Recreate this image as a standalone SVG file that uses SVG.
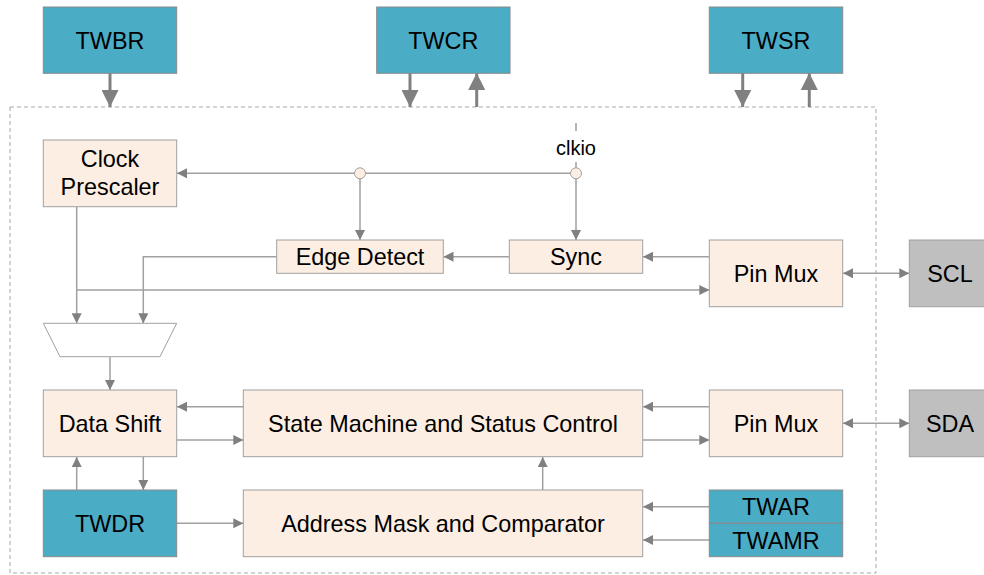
<svg xmlns="http://www.w3.org/2000/svg" width="984" height="575" viewBox="0 0 984 575">
<style>
text{font-family:"Liberation Sans",Arial,sans-serif;font-size:23.4px;fill:#000;text-anchor:middle}
.reg rect{fill:#4bacc6;stroke:#8a8a8a;stroke-width:1}
.blk rect,.blk path{fill:#fdeee3;stroke:#a0a0a0;stroke-width:1}
.pin rect{fill:#bfbfbf;stroke:#a0a0a0;stroke-width:1}
.thin{fill:none;stroke:#a0a0a0;stroke-width:1.5}
.thick{fill:none;stroke:#808080;stroke-width:3}
</style>
<defs>
<marker id="a" viewBox="0 0 10 10" refX="10" refY="5" markerWidth="10" markerHeight="10" markerUnits="userSpaceOnUse" orient="auto-start-reverse"><path d="M0,0 L10,5 L0,10 Z" fill="#808080"/></marker>
<marker id="A" viewBox="0 0 10 10" refX="10" refY="5" markerWidth="17" markerHeight="17" markerUnits="userSpaceOnUse" orient="auto"><path d="M0,0 L10,5 L0,10 Z" fill="#808080"/></marker>
</defs>
<rect x="10" y="107" width="866" height="466" fill="none" stroke="#a8a8a8" stroke-width="1" stroke-dasharray="4,3"/>
<g id="connectors">
<path class="thick" d="M110,73 V107" marker-end="url(#A)"/>
<path class="thick" d="M410,73 V107" marker-end="url(#A)"/>
<path class="thick" d="M476.7,107 V73" marker-end="url(#A)"/>
<path class="thick" d="M742.7,73 V107" marker-end="url(#A)"/>
<path class="thick" d="M809.3,107 V73" marker-end="url(#A)"/>
<path class="thin" d="M576,123 V131"/>
<path class="thin" d="M576,162 V168"/>
<path class="thin" d="M570.5,173.3 H365.5"/>
<path class="thin" d="M354.5,173.3 H177" marker-end="url(#a)"/>
<path class="thin" d="M360,179 V240" marker-end="url(#a)"/>
<path class="thin" d="M576,179 V240" marker-end="url(#a)"/>
<path class="thin" d="M709.3,256.7 H643" marker-end="url(#a)"/>
<path class="thin" d="M509.3,256.7 H443.5" marker-end="url(#a)"/>
<path class="thin" d="M276.7,256.7 H143.3 V323.3" marker-end="url(#a)"/>
<path class="thin" d="M76.7,207 V323.3" marker-end="url(#a)"/>
<path class="thin" d="M76.7,290 H709.3" marker-end="url(#a)"/>
<path class="thin" d="M843,273.3 H909.3" marker-start="url(#a)" marker-end="url(#a)"/>
<path class="thin" d="M110,356.7 V390" marker-end="url(#a)"/>
<path class="thin" d="M243.3,406.7 H177" marker-end="url(#a)"/>
<path class="thin" d="M177,440 H243.3" marker-end="url(#a)"/>
<path class="thin" d="M709.3,406.7 H643" marker-end="url(#a)"/>
<path class="thin" d="M643,440 H709.3" marker-end="url(#a)"/>
<path class="thin" d="M843,423.3 H909.3" marker-start="url(#a)" marker-end="url(#a)"/>
<path class="thin" d="M76.7,490 V457" marker-end="url(#a)"/>
<path class="thin" d="M143.3,457 V490" marker-end="url(#a)"/>
<path class="thin" d="M177,523.3 H243.3" marker-end="url(#a)"/>
<path class="thin" d="M542.7,490 V457" marker-end="url(#a)"/>
<path class="thin" d="M709.3,506.7 H643" marker-end="url(#a)"/>
<path class="thin" d="M709.3,540 H643" marker-end="url(#a)"/>
<circle cx="360" cy="173.3" r="5.5" fill="#fdeee3" stroke="#a0a0a0" stroke-width="1"/>
<circle cx="576" cy="173.3" r="5.5" fill="#fdeee3" stroke="#a0a0a0" stroke-width="1"/>
<text x="576" y="154.5" style="font-size:20px">clkio</text>
</g>
<g id="twbr" class="reg"><rect x="43.3" y="7" width="133.4" height="66.3"/><text x="110" y="48.5">TWBR</text></g>
<g id="twcr" class="reg"><rect x="376.7" y="7" width="133.3" height="66.3"/><text x="443.3" y="48.5">TWCR</text></g>
<g id="twsr" class="reg"><rect x="709.3" y="7" width="133.4" height="66.3"/><text x="776" y="48.5">TWSR</text></g>
<g id="clock-prescaler" class="blk"><rect x="43.3" y="140" width="133.4" height="66.7"/><text x="110" y="167">Clock</text><text x="110" y="195">Prescaler</text></g>
<g id="edge-detect" class="blk"><rect x="276.7" y="240" width="166.6" height="33.3"/><text x="360" y="265">Edge Detect</text></g>
<g id="sync" class="blk"><rect x="509.3" y="240" width="133.4" height="33.3"/><text x="576" y="265">Sync</text></g>
<g id="pinmux-scl" class="blk"><rect x="709.3" y="240" width="133.4" height="66.7"/><text x="776" y="281.5">Pin Mux</text></g>
<g id="scl" class="pin"><rect x="909.3" y="240" width="80" height="66.7"/><text x="950" y="281.5">SCL</text></g>
<g id="mux" class="blk"><path d="M43.3,323.3 H176.7 L160,356.7 H60 Z" style="fill:#fff"/></g>
<g id="data-shift" class="blk"><rect x="43.3" y="390" width="133.4" height="66.7"/><text x="110" y="431.5">Data Shift</text></g>
<g id="state-machine" class="blk"><rect x="243.3" y="390" width="399.4" height="66.7"/><text x="443" y="431.5">State Machine and Status Control</text></g>
<g id="pinmux-sda" class="blk"><rect x="709.3" y="390" width="133.4" height="66.7"/><text x="776" y="431.5">Pin Mux</text></g>
<g id="sda" class="pin"><rect x="909.3" y="390" width="80" height="66.7"/><text x="950" y="431.5">SDA</text></g>
<g id="twdr" class="reg"><rect x="43.3" y="490" width="133.4" height="66.7"/><text x="110" y="531.5">TWDR</text></g>
<g id="address-mask" class="blk"><rect x="243.3" y="490" width="399.4" height="66.7"/><text x="443" y="531.5">Address Mask and Comparator</text></g>
<g id="twar" class="reg"><rect x="709.3" y="490" width="133.4" height="33.3"/><text x="776" y="515">TWAR</text></g>
<g id="twamr" class="reg"><rect x="709.3" y="523.3" width="133.4" height="33.4"/><text x="776" y="548.5">TWAMR</text></g>
</svg>
